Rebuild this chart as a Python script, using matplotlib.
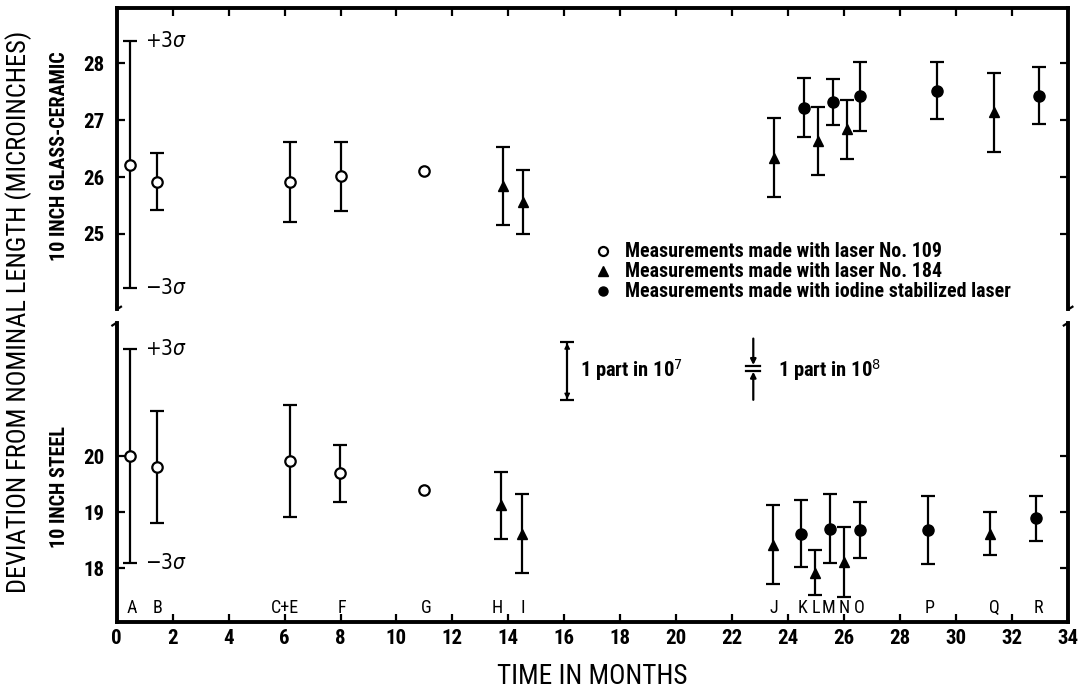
import numpy as np
import matplotlib
matplotlib.use("Agg")
import matplotlib.pyplot as plt
from matplotlib import font_manager as fm
from matplotlib.lines import Line2D

# look for a narrow / condensed face, the scan uses a condensed grotesque
names = {f.name for f in fm.fontManager.ttflist}
cond = sorted({f.name for f in fm.fontManager.ttflist
               if 'narrow' in f.name.lower() or 'condensed' in f.name.lower()
               or f.stretch in ('condensed', 'semi-condensed', 'extra-condensed')})
family = [n for n in ['Liberation Sans Narrow', 'Roboto Condensed', 'Open Sans Condensed',
                      'Arial Narrow'] if n in names] + cond + ['Liberation Sans', 'DejaVu Sans']
plt.rcParams['font.family'] = family
plt.rcParams['font.stretch'] = 'condensed'
plt.rcParams['mathtext.fontset'] = 'dejavusans'

# 10 inch glass-ceramic (upper panel)
gc109_t = [0.48, 1.46, 6.2, 8.0, 11.0]
gc109_v = [26.22, 25.92, 25.91, 26.01, 26.10]
gc109_e = [2.17, 0.50, 0.71, 0.60, np.nan]

gc184_t = [13.8, 14.52, 23.5, 25.05, 26.1, 31.35]
gc184_v = [25.84, 25.56, 26.34, 26.64, 26.84, 27.14]
gc184_e = [0.69, 0.57, 0.70, 0.60, 0.52, 0.70]

gcI2_t = [24.55, 25.6, 26.55, 29.3, 32.95]
gcI2_v = [27.22, 27.32, 27.42, 27.52, 27.43]
gcI2_e = [0.52, 0.40, 0.61, 0.50, 0.50]

# 10 inch steel (lower panel)
st109_t = [0.48, 1.46, 6.2, 7.98, 11.0]
st109_v = [20.00, 19.81, 19.91, 19.69, 19.40]
st109_e = [1.90, 1.00, 1.00, 0.50, np.nan]

st184_t = [13.75, 14.5, 23.45, 24.95, 26.0, 31.2]
st184_v = [19.12, 18.62, 18.42, 17.92, 18.12, 18.62]
st184_e = [0.60, 0.70, 0.70, 0.40, 0.62, 0.38]

stI2_t = [24.45, 25.5, 26.55, 29.0, 32.85]
stI2_v = [18.62, 18.71, 18.69, 18.68, 18.89]
stI2_e = [0.60, 0.61, 0.50, 0.60, 0.40]

letters = ['A', 'B', 'C+E', 'F', 'G', 'H', 'I', 'J', 'K', 'L', 'M', 'N', 'O', 'P', 'Q', 'R']
letter_t = [0.55, 1.45, 6.0, 8.05, 11.05, 13.6, 14.5, 23.5, 24.5, 25.0, 25.45, 26.0, 26.55, 29.05, 31.35, 32.95]

top_yticks = [25, 26, 27, 28]
bot_yticks = [18, 19, 20]
month_ticks = list(range(0, 35, 2))

legend_labels = ['Measurements made with laser No. 109',
                 'Measurements made with laser No. 184',
                 'Measurements made with iodine stabilized laser']

fig = plt.figure(figsize=(10.8, 6.94), dpi=100)
ax_top = fig.add_axes([0.108, 0.555, 0.881, 0.433])
ax_bot = fig.add_axes([0.108, 0.104, 0.881, 0.430])
rend = fig.canvas.get_renderer()


def fit(txt, length, rotated=False):
    # scale the font so the text spans the length seen in the scan
    bb = txt.get_window_extent(rend)
    cur = bb.height if rotated else bb.width
    txt.set_fontsize(txt.get_fontsize() * length / cur)


open_c = dict(marker='o', mfc='white', mec='k', ms=7.5, mew=1.6)
tri = dict(marker='^', mfc='k', mec='k', ms=7.5, mew=1)
dot = dict(marker='o', mfc='k', mec='k', ms=8, mew=1)


def draw(ax, t, v, e, style):
    ax.errorbar(t, v, yerr=e, fmt='none', ecolor='k', elinewidth=1.6,
                capsize=5, capthick=1.6, zorder=2)
    ax.plot(t, v, linestyle='none', zorder=3, **style)


draw(ax_top, gc109_t, gc109_v, gc109_e, open_c)
draw(ax_top, gc184_t, gc184_v, gc184_e, tri)
draw(ax_top, gcI2_t, gcI2_v, gcI2_e, dot)
draw(ax_bot, st109_t, st109_v, st109_e, open_c)
draw(ax_bot, st184_t, st184_v, st184_e, tri)
draw(ax_bot, stI2_t, stI2_v, stI2_e, dot)

tick_font = dict(fontweight='bold', fontsize=15)
ax_top.set_ylim(23.68, 28.97)
ax_bot.set_ylim(17.05, 22.36)
ax_top.set_yticks(top_yticks, labels=[str(v) for v in top_yticks], **tick_font)
ax_top.set_xticks(month_ticks[1:-1])
ax_bot.set_yticks(bot_yticks, labels=[str(v) for v in bot_yticks], **tick_font)
ax_bot.set_xticks(month_ticks, labels=[str(v) for v in month_ticks], **tick_font)
for ax in (ax_top, ax_bot):
    ax.set_xlim(0, 34)
    for s in ('left', 'right'):
        ax.spines[s].set_linewidth(2.8)
    ax.tick_params(direction='in', length=6, width=1.6, right=True, pad=9)

ax_top.spines['bottom'].set_visible(False)
ax_top.spines['top'].set_linewidth(2.8)
ax_top.tick_params(axis='x', bottom=False, top=True, labelbottom=False)

ax_bot.spines['top'].set_visible(False)
ax_bot.spines['bottom'].set_linewidth(2.8)
ax_bot.tick_params(axis='x', top=False, pad=5)
xl = ax_bot.set_xlabel('TIME IN MONTHS', fontsize=18, labelpad=11)
fit(xl, 190)

# sigma notes
for ax, hi, lo in ((ax_top, 28.39, 24.05), (ax_bot, 21.9, 18.1)):
    ax.text(1.0, hi, r'$+3\sigma$', fontsize=15, va='center')
    ax.text(1.0, lo, r'$-3\sigma$', fontsize=15, va='center')

# event letters
for lab, t in zip(letters, letter_t):
    ax_bot.text(t, 17.3, lab, fontsize=13, ha='center', va='center')

# legend
handles = [Line2D([], [], linestyle='none', **dict(open_c, ms=6.5)),
           Line2D([], [], linestyle='none', **dict(tri, ms=6.5)),
           Line2D([], [], linestyle='none', **dict(dot, ms=6.5))]
leg_font = fm.FontProperties(family=family, stretch='condensed', weight='bold', size=13)
probe = fig.text(0, 0, legend_labels[2], fontproperties=leg_font)
fit(probe, 382)
leg_size = probe.get_fontsize()
probe.remove()
ax_top.legend(handles, legend_labels, loc='lower left',
              bbox_to_anchor=(0.484, -0.035), frameon=False, handlelength=0.8,
              handletextpad=0.7, labelspacing=0.05,
              prop=fm.FontProperties(family=family, stretch='condensed',
                                     weight='bold', size=leg_size))

# scale bars
ax_bot.errorbar([16.1], [21.51], yerr=[[0.51], [0.52]], fmt='none', ecolor='k',
                elinewidth=1.6, capsize=5, capthick=1.6)
ax_bot.annotate('', xy=(16.1, 22.01), xytext=(16.1, 21.85),
                arrowprops=dict(arrowstyle='-|>', color='k', lw=1, mutation_scale=8,
                                shrinkA=0, shrinkB=0))
ax_bot.annotate('', xy=(16.1, 21.01), xytext=(16.1, 21.17),
                arrowprops=dict(arrowstyle='-|>', color='k', lw=1, mutation_scale=8,
                                shrinkA=0, shrinkB=0))
t7 = ax_bot.text(16.55, 21.53, r'1 part in 10$^{7}$', fontsize=14, weight='bold', va='center')
fit(t7, 103)

ax_bot.plot([22.5, 23.0], [21.61, 21.61], color='k', lw=1.6)
ax_bot.plot([22.5, 23.0], [21.51, 21.51], color='k', lw=1.6)
ax_bot.annotate('', xy=(22.75, 21.62), xytext=(22.75, 22.09),
                arrowprops=dict(arrowstyle='-|>', color='k', lw=1.6, mutation_scale=8,
                                shrinkA=0, shrinkB=0))
ax_bot.annotate('', xy=(22.75, 21.50), xytext=(22.75, 21.0),
                arrowprops=dict(arrowstyle='-|>', color='k', lw=1.6, mutation_scale=8,
                                shrinkA=0, shrinkB=0))
t8 = ax_bot.text(23.65, 21.53, r'1 part in 10$^{8}$', fontsize=14, weight='bold', va='center')
t8.set_fontsize(t7.get_fontsize())

# axis break hooks at the gap between the two panels
gap_top, gap_bot = 0.555, 0.534
for x0 in (0.108, 0.989):
    fig.add_artist(Line2D([x0, x0, x0 + 0.004], [gap_top + 0.006, gap_top - 0.001, gap_top + 0.003],
                          color='k', lw=1.6))
    fig.add_artist(Line2D([x0, x0, x0 - 0.004], [gap_bot - 0.006, gap_bot + 0.001, gap_bot - 0.003],
                          color='k', lw=1.6))

# y labels
yl = fig.text(0.017, 0.55, 'DEVIATION FROM NOMINAL LENGTH (MICROINCHES)', rotation=90,
              fontsize=16, ha='center', va='center')
fit(yl, 565, rotated=True)
g1 = fig.text(0.055, 0.775, '10 INCH GLASS-CERAMIC', rotation=90, fontsize=11.5,
              weight='bold', ha='center', va='center')
fit(g1, 211, rotated=True)
g2 = fig.text(0.055, 0.298, '10 INCH STEEL', rotation=90, fontsize=11.5,
              weight='bold', ha='center', va='center')
g2.set_fontsize(g1.get_fontsize())

fig.savefig('out.png', dpi=100)
